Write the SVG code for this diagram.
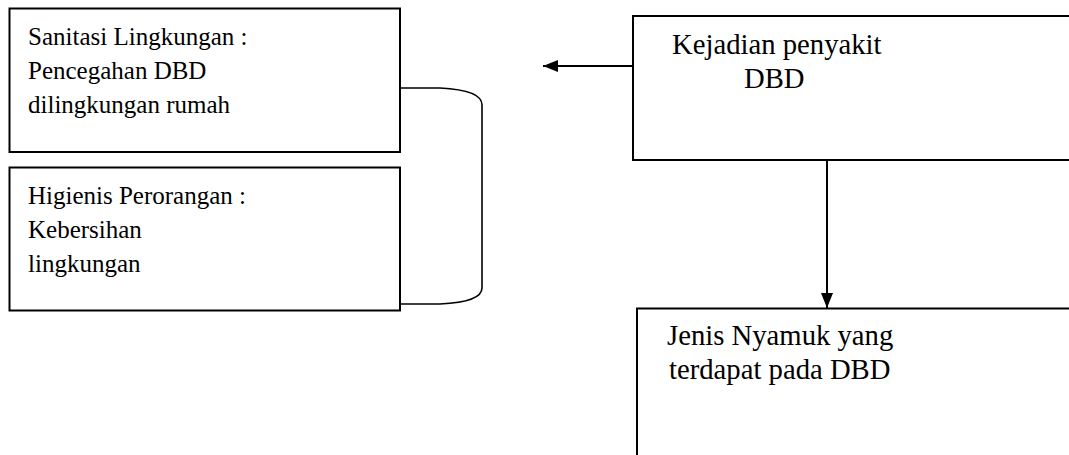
<svg xmlns="http://www.w3.org/2000/svg" width="1069" height="455" viewBox="0 0 1069 455">
<style>
.box{fill:#fff;stroke:#000;stroke-width:2}
text{font-family:'Liberation Serif','Times New Roman','DejaVu Serif',serif;fill:#000}
.s{font-size:25px}
.l{font-size:28.7px}
.c{fill:none;stroke:#000;stroke-width:2}
</style>
<defs>
<marker id="ah" viewBox="0 0 15 12" refX="15" refY="6" markerWidth="15" markerHeight="12" markerUnits="userSpaceOnUse" orient="auto">
<path d="M0,0 L15,6 L0,12 Z" fill="#000"/>
</marker>
</defs>
<g id="node-sanitasi">
<rect class="box" x="9.5" y="8.5" width="390.5" height="143.5"/>
<text class="s" x="28" y="45">Sanitasi Lingkungan :</text>
<text class="s" x="28" y="79">Pencegahan DBD</text>
<text class="s" x="28" y="113">dilingkungan rumah</text>
</g>
<g id="node-higienis">
<rect class="box" x="9.5" y="167.5" width="390.5" height="143"/>
<text class="s" x="28" y="204">Higienis Perorangan :</text>
<text class="s" x="28" y="238">Kebersihan</text>
<text class="s" x="28" y="272">lingkungan</text>
</g>
<g id="node-kejadian">
<rect class="box" x="633" y="16" width="450" height="144"/>
<text class="l" x="672" y="54">Kejadian penyakit</text>
<text class="l" x="744" y="88">DBD</text>
</g>
<g id="node-jenis">
<rect class="box" x="637" y="308.5" width="450" height="160"/>
<text class="l" x="667" y="345">Jenis Nyamuk yang</text>
<text class="l" x="669" y="379">terdapat pada DBD</text>
</g>
<g id="connectors">
<path class="c" d="M400,88 L440,88 Q482,90 482,105 L482,288 Q482,302 440,304 L400,304" style="stroke-width:1.6"/>
<line class="c" x1="633" y1="66" x2="543" y2="66" marker-end="url(#ah)"/>
<line class="c" x1="827" y1="160" x2="827" y2="308" marker-end="url(#ah)"/>
</g>
</svg>
